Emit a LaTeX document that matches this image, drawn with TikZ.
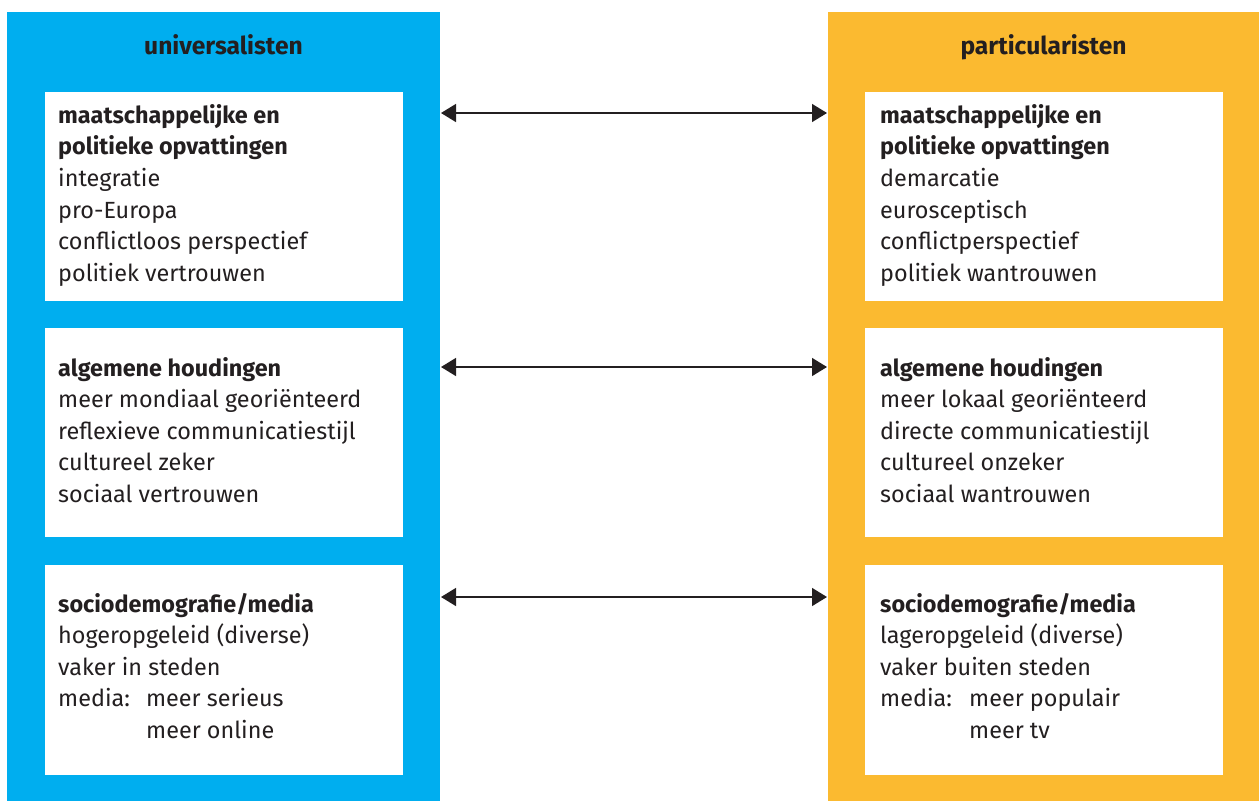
\documentclass[tikz,border=0pt]{standalone}
\usepackage{fontspec}
\setmainfont{Fira Sans}
\usetikzlibrary{arrows.meta}
\definecolor{ublue}{RGB}{0,174,239}
\definecolor{porange}{RGB}{251,186,48}
\definecolor{txt}{RGB}{35,31,32}
\newcommand{\boxfont}{\fontsize{23.4}{31.6}\selectfont}
\newcommand{\ttlfont}{\fontsize{24.6}{30}\selectfont\bfseries}
\begin{document}
\begin{tikzpicture}[x=1pt,y=-1pt,
  panelL/.style={fill=ublue,draw=none},
  panelR/.style={fill=porange,draw=none},
  wbox/.style={fill=white,draw=none},
  ttl/.style={anchor=base,inner sep=0,text=txt,font=\ttlfont},
  body/.style={anchor=base west,inner sep=0,text=txt,font=\boxfont},
  dbl/.style={{Triangle[length=15pt,width=18pt]}-{Triangle[length=15pt,width=18pt]},line width=1.4pt,draw=txt,fill=txt}]
\useasboundingbox (0,0) rectangle (1259,801);
% panels
\fill[panelL] (7,12) rectangle (440,801);
\fill[panelR] (828,12) rectangle (1259,801);
\node[ttl] (tl) at (223.5,54) {universalisten};
\node[ttl] (tr) at (1043.5,54) {particularisten};
% white boxes
\fill[wbox] (45,92) rectangle (403,301);
\fill[wbox] (45,328) rectangle (403,537);
\fill[wbox] (45,565) rectangle (403,775);
\fill[wbox] (865,92) rectangle (1223,301);
\fill[wbox] (865,328) rectangle (1223,537);
\fill[wbox] (865,565) rectangle (1223,775);
% texts left
\node[body] (l1) at (58,123.3) {\begin{tabular}[t]{@{}l@{}}\textbf{maatschappelijke en}\\ \textbf{politieke opvattingen}\\ integratie\\ pro-Europa\\ conflictloos perspectief\\ politiek vertrouwen\end{tabular}};
\node[body] (l2) at (58,376) {\begin{tabular}[t]{@{}l@{}}\textbf{algemene houdingen}\\ meer mondiaal georiënteerd\\ reflexieve communicatiestijl\\ cultureel zeker\\ sociaal vertrouwen\end{tabular}};
\node[body] (l3) at (58,612) {\begin{tabular}[t]{@{}l@{}}\textbf{sociodemografie/media}\\ hogeropgeleid (diverse)\\ vaker in steden\\ \makebox[88pt][l]{media:}meer serieus\\ \hspace*{88pt}meer online\end{tabular}};
% texts right
\node[body] (r1) at (880,123.3) {\begin{tabular}[t]{@{}l@{}}\textbf{maatschappelijke en}\\ \textbf{politieke opvattingen}\\ demarcatie\\ eurosceptisch\\ conflictperspectief\\ politiek wantrouwen\end{tabular}};
\node[body] (r2) at (880,376) {\begin{tabular}[t]{@{}l@{}}\textbf{algemene houdingen}\\ meer lokaal georiënteerd\\ directe communicatiestijl\\ cultureel onzeker\\ sociaal wantrouwen\end{tabular}};
\node[body] (r3) at (880,612) {\begin{tabular}[t]{@{}l@{}}\textbf{sociodemografie/media}\\ lageropgeleid (diverse)\\ vaker buiten steden\\ \makebox[89pt][l]{media:}meer populair\\ \hspace*{89pt}meer tv\end{tabular}};
% arrows
\coordinate (aL1) at (441,113);  \coordinate (aR1) at (827,113);
\coordinate (aL2) at (441,367);  \coordinate (aR2) at (827,367);
\coordinate (aL3) at (441,597);  \coordinate (aR3) at (827,597);
\draw[dbl] (aL1) -- (aR1);
\draw[dbl] (aL2) -- (aR2);
\draw[dbl] (aL3) -- (aR3);
\end{tikzpicture}
\end{document}
